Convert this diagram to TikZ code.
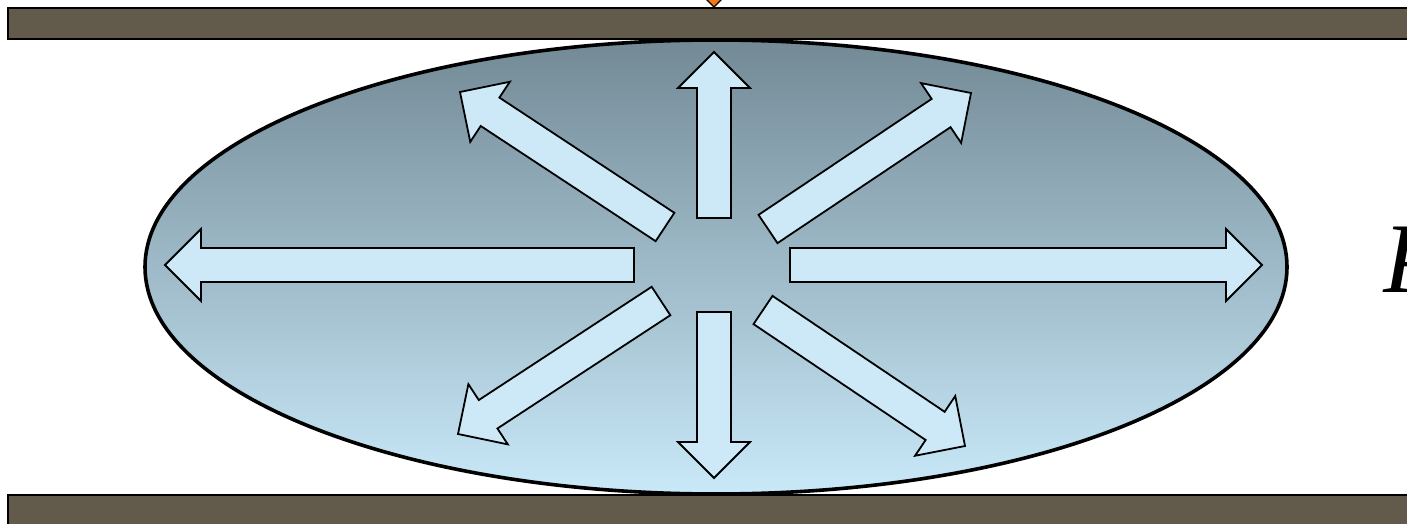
\documentclass[tikz,border=0pt]{standalone}
\usepackage{fontspec}
\setmainfont{Liberation Serif}
\usetikzlibrary{calc}

\definecolor{platebrown}{HTML}{625A4A}
\definecolor{bubbletop}{HTML}{738A96}
\definecolor{bubblebot}{HTML}{C9E9F9}
\definecolor{arrowblue}{HTML}{CDE9F7}
\definecolor{marker}{HTML}{F07818}

% block arrow from base coordinate #1 to tip coordinate #2
\newcommand\blockarrow[2]{%
  \coordinate (hb) at ($(#2)!18pt!(#1)$);
  \draw[barrow] ($(#1)!8.5pt!90:(#2)$) -- ($(hb)!8.5pt!90:(#2)$) -- ($(hb)!18pt!90:(#2)$)
    -- (#2) -- ($(hb)!18pt!-90:(#2)$) -- ($(hb)!8.5pt!-90:(#2)$) -- ($(#1)!8.5pt!-90:(#2)$) -- cycle;}

\begin{document}
\begin{tikzpicture}[
  x=0.5pt, y=-0.5pt,
  plate/.style={draw, line width=1.2pt, fill=platebrown},
  bubble/.style={draw, line width=1.8pt, top color=bubbletop, bottom color=bubblebot},
  barrow/.style={draw, line width=0.9pt, fill=arrowblue, line join=miter}
]
\useasboundingbox (0,0) rectangle (1407,524);
\clip (0,0) rectangle (1407,524);

% plates
\draw[plate] (8,8) rectangle (1420,39);
\draw[plate] (8,495) rectangle (1420,540);
\draw[fill=marker, line width=0.6pt] (707,0) -- (714,7) -- (721,0) -- (714,-7) -- cycle;

% bubble
\draw[bubble] (716,267) ellipse [x radius=571, y radius=227];

\foreach \n/\bx/\by/\tx/\ty in {up/714/218/714/52, down/714/312/714/478,
    left/634/265/165/265, right/790/265/1262/265,
    ul/665/227/460/92, ur/768/229/971/93, ll/661/301/458/434, lr/763/310/965/446} {
  \coordinate (\n-base) at (\bx,\by);
  \coordinate (\n-tip) at (\tx,\ty);
  \blockarrow{\n-base}{\n-tip}
}

\node[font=\fontsize{50}{52}\selectfont\itshape, anchor=base west, inner sep=0pt] (plabel) at (1383,292) {P};
\end{tikzpicture}
\end{document}
